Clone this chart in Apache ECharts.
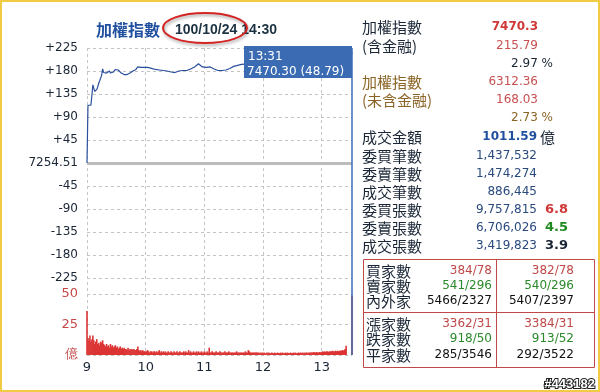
<!DOCTYPE html>
<html>
<head>
<meta charset="utf-8">
<script src="https://cdn.jsdelivr.net/npm/echarts@6/dist/echarts.min.js"></script>
<style>
html,body{margin:0;padding:0;background:#fff;}
#c{width:600px;height:392px;}
</style>
</head>
<body>
<div id="c"></div>
<script>
// ---- data ----
var prevClose = '7254.51';
var hourLabels = [9, 10, 11, 12, 13];
var priceMin = [0,1,2,3,4,5,6,7,8,9,10,11,12,13,14,15,16,17,18,19,20,21,22,23,24,25,26,27,28,29,30,31,32,33,34,35,36,37,38,39,40,41,42,43,44,45,46,47,48,49,50,51,52,53,54,55,56,57,58,59,
  60,62,64,66,68,70,72,74,76,78,80,82,84,86,88,90,92,94,96,98,100,102,104,106,108,110,112,114,116,118,120,122,124,126,128,130,132,134,136,138,140,142,144,146,148,150,152,154,156,158,
  160,165,170,175,180,190,200,210,220,230,240,250,260,265,270,271];
var priceChg = [0,113,113,114,113,132,153,146,140,138,144,149,156,161,163,172,184,177,175,179,176,179,177,180,176,178,175,178,181,183,184,186,182,180,179,176,178,174,173,175,172,173,171,174,176,177,178,180,181,180,183,185,188,190,188,187,189,186,187,188,
  188,187,185,185,184,183,184,182,183,181,181,180,179,178,177,177,178,180,179,181,180,181,183,184,186,188,190,194,191,188,186,187,188,188,186,184,183,181,180,181,181,182,184,185,187,189,190,191,193,193,
  192,194,196,195,197,198,197,200,199,202,204,206,208,209,209,215.79];
var volume = [
  36,14,12,16,11,13,16,12,9,11,
  13,9,10,8,11,10,12,9,8,7,
  9,7,8,6,9,7,8,6,7,8,
  6,7,5,6,7,5,6,5,6,5,
  5,4,6,4,5,4,5,4,5,4,
  4,5,7,4,3,4,3,4,3,3,
  3,3,4,3,2,3,3,2,3,3,
  2,3,2,3,4,2,3,2,3,2,
  3,2,2,3,2,2,3,2,2,3,
  2,2,3,2,2,3,2,2,2,3,
  2,3,2,2,4,2,3,2,2,3,
  2,2,3,2,3,2,2,3,2,2,
  3,2,2,3,2,6,2,2,3,2,
  2,2,3,2,2,2,3,2,2,2,
  2,3,2,2,2,3,2,2,2,2,
  2,2,2,3,2,2,2,2,2,2,
  2,2,3,2,2,4,3,2,2,2,
  2,2,2,2,2,2,1.5,2,1.5,2,
  1.5,2,1.5,1.5,2,1.5,2,1.5,1.5,2,
  1.5,1.5,2,1.5,1.5,2,1.5,1.5,2,1.5,
  2,1.5,1.5,2,1.5,2,1.5,1.5,2,1.5,
  1.5,2,1.5,2,1.5,1.5,2,1.5,2,1.5,
  2,1.5,2,1.5,2,2,1.5,2,2,2,
  2,2,2.5,2,2,2.5,2,2,2.5,2,
  2.5,3,2.5,3,2.5,3,3,2.5,3,3,
  3,3.5,3,3,3.5,3,3.5,3,3.5,3.5,
  3.5,4,3.5,4,5,7.5,
  0,0,0,0,0,
  48.79];
var tipTime = '13:31';
var tipValue = '7470.30 (48.79)';
var titleName = '加權指數';
var titleDate = '100/10/24';
var titleTime = '14:30';

var statLabels = ['加權指數','(含金融)','','加權指數','(未含金融)','','成交金額','委買筆數','委賣筆數','成交筆數','委買張數','委賣張數','成交張數'];
var statValues = ['7470.3','215.79','2.97 %','6312.36','168.03','2.73 %','1011.59','1,437,532','1,474,274','886,445','9,757,815','6,706,026','3,419,823'];
var statRatios = ['','','','','','','','','','','6.8','4.5','3.9'];
var boxLabels = ['買家數','賣家數','內外家','漲家數','跌家數','平家數'];
var boxLeft = ['384/78','541/296','5466/2327','3362/31','918/50','285/3546'];
var boxRight = ['382/78','540/296','5407/2397','3384/31','913/52','292/3522'];
var footer = '#443182';

// ---- build ----
var pricePts = priceMin.map(function(m, i){ return [m, priceChg[i]]; });
var volPts = volume.map(function(v, i){ return [i, v]; });
var lastMin = priceMin[priceMin.length - 1];

var dash = {color:'#c4c4c4', type:[3,3], width:1};
var axFont = 'DejaVu Sans';

var g = [];
// outer border
g.push({type:'rect', shape:{x:1,y:1,width:598,height:390}, style:{fill:'none', stroke:'#f2cb45', lineWidth:2}, z:200});
// title
g.push({type:'text', x:96, y:30, style:{text:titleName, font:'bold 16px "Noto Sans CJK TC"', fill:'#1f4f9e', verticalAlign:'middle'}, z:100});
g.push({type:'text', x:175, y:30, style:{text:titleDate + ' ' + titleTime, font:'bold 14px "Liberation Sans"', fill:'#1b3242', verticalAlign:'middle'}, z:100});
g.push({type:'ellipse', shape:{cx:205, cy:28, rx:42, ry:15}, style:{fill:'none', stroke:'#d42424', lineWidth:2, shadowBlur:3, shadowColor:'rgba(0,0,0,0.35)', shadowOffsetX:1, shadowOffsetY:2}, z:101});
// tooltip
g.push({type:'rect', shape:{x:244, y:46, width:108, height:32}, style:{fill:'#3b6cb3'}, z:150});
g.push({type:'text', x:248, y:57, style:{text:tipTime, font:'12px "DejaVu Sans"', fill:'#fff', verticalAlign:'middle'}, z:151});
g.push({type:'text', x:247, y:72, style:{text:tipValue, font:'12px "DejaVu Sans"', fill:'#fff', verticalAlign:'middle'}, z:151});

// right stats
var rowY = [27,46,64,82,100,118,137,156,174,192,210,228,246];
var labelColors = ['#1a2636','#1a2636','#1a2636','#8a6424','#8a6424','#1a2636','#1a2636','#1a2636','#1a2636','#1a2636','#1a2636','#1a2636','#1a2636'];
var valStyle = [
  {c:'#d03838', b:true, x:538},
  {c:'#c85050', b:false, x:538},
  {c:'#1a2636', b:false, x:553},
  {c:'#c85050', b:false, x:538},
  {c:'#c85050', b:false, x:538},
  {c:'#8a6424', b:false, x:553},
  {c:'#1f4f9e', b:true, x:537},
  {c:'#2a4a7e', b:false, x:537},
  {c:'#2a4a7e', b:false, x:537},
  {c:'#2a4a7e', b:false, x:537},
  {c:'#2a4a7e', b:false, x:537},
  {c:'#2a4a7e', b:false, x:537},
  {c:'#2a4a7e', b:false, x:537}
];
var ratioColors = {10:'#d03838', 11:'#1f8a1f', 12:'#1a2636'};
statLabels.forEach(function(t, i){
  if (t) g.push({type:'text', x:362, y:rowY[i], style:{text:t, font:'15px "Noto Sans CJK TC"', fill:labelColors[i], verticalAlign:'middle'}, z:100});
  var vs = valStyle[i];
  g.push({type:'text', x:vs.x, y:rowY[i], style:{text:statValues[i], font:(vs.b?'bold ':'') + '12px "DejaVu Sans"', fill:vs.c, align:'right', verticalAlign:'middle'}, z:100});
  if (statRatios[i]) g.push({type:'text', x:568, y:rowY[i], style:{text:statRatios[i], font:'bold 13px "DejaVu Sans"', fill:ratioColors[i], align:'right', verticalAlign:'middle'}, z:100});
});
g.push({type:'text', x:540, y:rowY[6], style:{text:'億', font:'15px "Noto Sans CJK TC"', fill:'#1a2636', verticalAlign:'middle'}, z:100});

// box
g.push({type:'rect', shape:{x:363.5, y:259.5, width:231, height:108}, style:{fill:'none', stroke:'#c04848', lineWidth:1}, z:100});
g.push({type:'line', shape:{x1:496.5, y1:259.5, x2:496.5, y2:367.5}, style:{stroke:'#c04848', lineWidth:1}, z:100});
g.push({type:'line', shape:{x1:363.5, y1:312.5, x2:594.5, y2:312.5}, style:{stroke:'#c04848', lineWidth:1}, z:100});
var boxY = [271,286,301,324,339,355];
var boxColors = ['#c04848','#2a8a2a','#111111','#c04848','#2a8a2a','#111111'];
boxLabels.forEach(function(t, i){
  g.push({type:'text', x:366, y:boxY[i], style:{text:t, font:'15px "Noto Sans CJK TC"', fill:'#1a2636', verticalAlign:'middle'}, z:100});
  g.push({type:'text', x:492, y:boxY[i], style:{text:boxLeft[i], font:'12px "DejaVu Sans"', fill:boxColors[i], align:'right', verticalAlign:'middle'}, z:100});
  g.push({type:'text', x:574, y:boxY[i], style:{text:boxRight[i], font:'12px "DejaVu Sans"', fill:boxColors[i], align:'right', verticalAlign:'middle'}, z:100});
});
g.push({type:'text', x:595, y:384, style:{text:footer, font:'bold 13px "Liberation Sans"', fill:'#ffffff', stroke:'#222', lineWidth:2, align:'right', verticalAlign:'middle'}, z:100});

var hiddenX = function(gi){ return {gridIndex:gi, type:'value', min:0, max:lastMin, interval:60, axisLine:{show:false}, axisTick:{show:false}, axisLabel:{show:false}, splitLine:{show:false}}; };

var chart = echarts.init(document.getElementById('c'), null, {renderer:'canvas'});
chart.setOption({
  animation:false,
  backgroundColor:'#ffffff',
  grid:[
    {left:87, right:248, top:48, height:230},
    {left:87, right:248, top:294, height:61},
    {left:87, right:248, top:48, height:307}
  ],
  xAxis:[
    hiddenX(0),
    hiddenX(1),
    {gridIndex:2, type:'value', min:0, max:lastMin, interval:60,
     axisLine:{show:false}, axisTick:{show:false},
     axisLabel:{margin:6, color:'#1a2636', fontFamily:axFont, fontSize:13, showMaxLabel:false,
       formatter:function(v){ return v % 60 === 0 ? String(hourLabels[v/60]) : ''; }},
     splitLine:{show:true, lineStyle:dash, showMaxLine:false}}
  ],
  yAxis:[
    {gridIndex:0, type:'value', min:-225, max:225, interval:45,
     axisLine:{show:false}, axisTick:{show:false},
     axisLabel:{margin:9, color:'#1a2636', fontFamily:axFont, fontSize:12,
       formatter:function(v){ return v > 0 ? '+' + v : (v === 0 ? prevClose : String(v)); }},
     splitLine:{show:true, lineStyle:dash}},
    {gridIndex:1, type:'value', min:0, max:50, interval:25,
     axisLine:{show:false}, axisTick:{show:false},
     axisLabel:{margin:9, color:'#c44a4a', fontFamily:axFont, fontSize:13,
       formatter:function(v){ return v === 0 ? '億' : String(v); }},
     splitLine:{show:true, lineStyle:dash}},
    {gridIndex:2, type:'value', min:0, max:1, show:false}
  ],
  series:[
    {type:'line', xAxisIndex:0, yAxisIndex:0, data:pricePts, showSymbol:false, symbol:'none',
     lineStyle:{color:'#2a4f9c', width:1.2}, z:5,
     markLine:{silent:true, symbol:'none', label:{show:false}, lineStyle:{color:'#bcbcbc', width:3, type:'solid'}, data:[{yAxis:0}], z:3}},
    {type:'bar', xAxisIndex:1, yAxisIndex:1, data:volPts, barWidth:1.6, itemStyle:{color:'#dc3434'}, z:4},
    {type:'scatter', xAxisIndex:2, yAxisIndex:2, data:[[lastMin, 0]], symbolSize:0, z:6,
     markLine:{silent:true, symbol:'none', label:{show:false}, lineStyle:{color:'#3b6cb3', width:1.5, type:'solid'}, data:[{xAxis:lastMin}]}}
  ],
  graphic:{elements:g}
});
</script>
</body>
</html>
